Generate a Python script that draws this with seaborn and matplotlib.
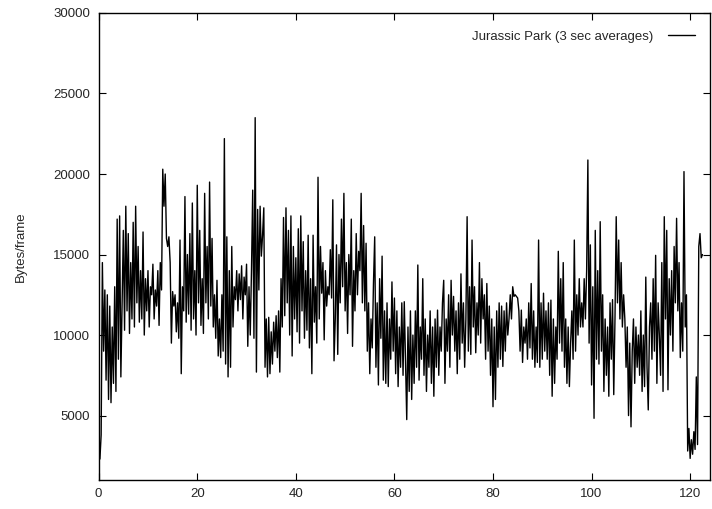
import numpy as np
import pandas as pd
import matplotlib
matplotlib.use("Agg")
import matplotlib.pyplot as plt
import seaborn as sns

bytes_per_frame = [
    4500, 2300, 3800, 14500, 9000, 12800, 7200, 12500,
    6000, 11800, 5800, 10500, 7000, 13000, 6500, 17200,
    8500, 17400, 7400, 12000, 16500, 10300, 18000, 11500,
    16300, 10100, 14500, 11000, 17000, 10500, 18000, 12000,
    15500, 10800, 14000, 11000, 16400, 10000, 13500, 11500,
    14000, 10500, 13000, 12500, 14400, 11000, 12800, 11800,
    14000, 10600, 14500, 12800, 20300, 18000, 20000, 16000,
    15500, 16100, 14500, 9500, 12700, 11800, 12500, 10200,
    12000, 9800, 15900, 7600, 13000, 11500, 18600, 10800,
    15000, 11300, 16300, 10300, 18200, 11000, 14000, 10000,
    19300, 12000, 16500, 10600, 13500, 10100, 18800, 12000,
    15500, 11000, 19500, 11800, 16000, 10500, 12500, 9800,
    13400, 8700, 11000, 8600, 12500, 9000, 22200, 8200,
    16100, 7400, 14000, 8000, 15500, 10500, 13000, 12200,
    14000, 11500, 13800, 12200, 14300, 11000, 13600, 12500,
    14400, 9300, 13000, 10000, 14000, 19000, 9800, 23500,
    7700, 17800, 12800, 18000, 14900, 16200, 17900, 8000,
    11000, 7400, 11100, 7600, 10200, 8200, 10800, 9000,
    11200, 8600, 11500, 7700, 13500, 10500, 17300, 11200,
    17900, 12000, 16500, 10000, 17400, 8700, 15500, 11000,
    14800, 10200, 16600, 9500, 17400, 11500, 15800, 9800,
    14000, 10300, 16200, 9200, 13500, 7600, 16200, 10800,
    13000, 9500, 19800, 11000, 15500, 12600, 14500, 9700,
    14000, 11800, 13000, 12500, 15300, 12300, 18400, 8400,
    11000, 15600, 8800, 15000, 12000, 17200, 13000, 18800,
    11500, 14500, 10100, 15000, 12500, 17200, 9300, 14000,
    11500, 16300, 12500, 15200, 14000, 18800, 12000, 16800,
    11500, 15700, 9000, 12000, 7600, 11000, 9200, 13200,
    16100, 8000, 12000, 6900, 13500, 9800, 14900, 7200,
    11500, 7000, 12000, 6800, 11000, 8500, 13300, 9000,
    12300, 7600, 11500, 6800, 10500, 8000, 12000, 7500,
    12070, 8500, 4750, 10500, 6500, 11500, 6000, 10000,
    7000, 11500, 8000, 14350, 7200, 10500, 8500, 13500,
    7500, 11000, 6500, 10000, 8000, 11500, 7000, 10500,
    6200, 11000, 8000, 11550, 7500, 10500, 9000, 12000,
    13400, 7000, 11000, 9000, 12500, 8000, 13400, 10000,
    12400, 9000, 11500, 7600, 12000, 8500, 13800, 9500,
    12000, 8000, 11000, 17350, 9000, 13000, 8800, 15900,
    10500, 13000, 8900, 12000, 10000, 14500, 9500, 13500,
    11000, 12500, 8500, 13200, 9000, 11800, 7500, 11000,
    5550, 10500, 6000, 11500, 8000, 12000, 8500, 11800,
    8050, 11500, 9000, 12000, 10000, 11000, 12500, 11000,
    13000, 12400, 12500, 12400, 12300, 11500, 9000, 11550,
    8300, 10500, 9500, 11000, 8500, 12000, 9200, 13200,
    8500, 11500, 8000, 10500, 8300, 15900, 8000, 12000,
    8500, 12600, 9000, 11500, 8500, 12000, 7500, 12170,
    6200, 11000, 7000, 10500, 8500, 15200, 9500, 13500,
    9000, 14500, 8000, 11000, 7000, 10500, 6800, 9500,
    11500, 8500, 15900, 9000, 12500, 10000, 13500, 10500,
    12000, 10500, 13500, 11000, 14000, 20870, 9500, 15600,
    6900, 13000, 4830, 16500, 8500, 14000, 8200, 17040,
    9000, 12500, 6500, 11000, 7500, 10500, 6200, 12000,
    8500, 12200, 6300, 11000, 17350, 12000, 15900, 11000,
    14500, 10500, 12500, 11000, 8000, 10500, 5000, 9500,
    4300, 9000, 11000, 7000, 10500, 8000, 10000, 7500,
    11500, 6500, 10000, 6800, 13600, 8000, 5350, 10500,
    12000, 8500, 13500, 9000, 14950, 7000, 12000, 10000,
    7500, 14500, 6500, 17350, 11000, 16500, 6600, 13500,
    10000, 14000, 9000, 15500, 12000, 17250, 11500, 14500,
    8600, 12000, 9000, 20150, 10500, 12500, 2800, 4200,
    2340, 3500, 2600, 4000, 2900, 7400, 3200, 15500,
    16300, 14800, 15000,
]
sample_step_min = 0.25
series_label = "Jurassic Park (3 sec averages)"
y_label = "Bytes/frame"
x_ticks = [0, 20, 40, 60, 80, 100, 120]
y_ticks = [5000, 10000, 15000, 20000, 25000, 30000]

df = pd.DataFrame({
    "minute": np.arange(len(bytes_per_frame)) * sample_step_min,
    "bytes": bytes_per_frame,
})

sns.set_style("ticks")
plt.rcParams["font.family"] = ["Liberation Sans", "DejaVu Sans"]

fig = plt.figure(figsize=(7.12, 5.09), dpi=100)
ax = fig.add_axes([0.1386, 0.057, 0.997 - 0.1386, 0.9745 - 0.057])

sns.lineplot(data=df, x="minute", y="bytes", ax=ax, color="black",
             linewidth=1.0, label=series_label, estimator=None)

ax.set_xlim(0, 124)
ax.set_ylim(1000, 30000)
ax.set_xticks(x_ticks)
ax.set_yticks(y_ticks)
ax.set_xticklabels([str(t) for t in x_ticks])
ax.set_yticklabels([str(t) for t in y_ticks])
ax.set_xlabel("")
ax.set_ylabel(y_label, fontsize=9.5, labelpad=19)
ax.tick_params(direction="in", length=5, width=0.8, top=True, right=True,
               labelsize=9.5, pad=6, color="black")
for s in ax.spines.values():
    s.set_visible(True)
    s.set_linewidth(1.0)
    s.set_color("black")

leg = ax.legend(loc="upper right", bbox_to_anchor=(0.985, 0.974),
                borderaxespad=0.0, frameon=False, markerfirst=False,
                fontsize=9.5, handlelength=2.1, handletextpad=1.1)

fig.savefig("out.png", dpi=100)
